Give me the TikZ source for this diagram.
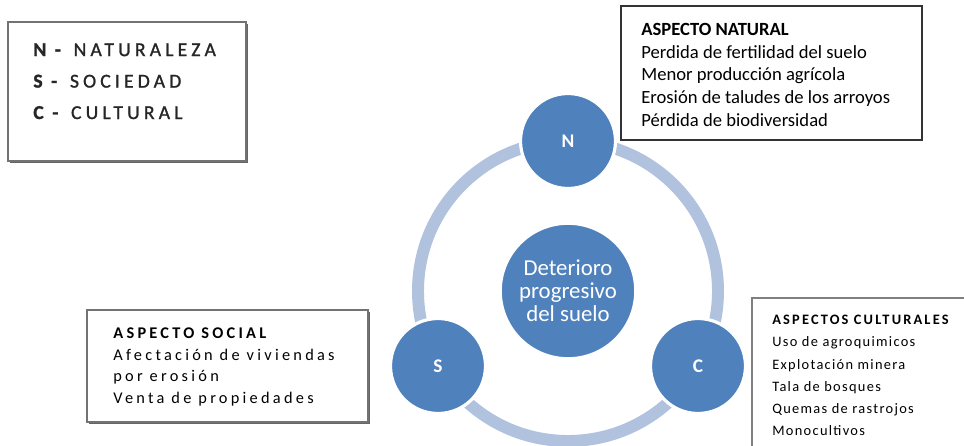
\documentclass[tikz,border=0pt]{standalone}
\usepackage{fontspec}
\setmainfont{Carlito}
\newfontfamily\legendfont[LetterSpace=21, FakeBold=1.2]{Carlito}
\newfontfamily\socialfont[LetterSpace=20]{Carlito}
\newfontfamily\culturefont[LetterSpace=9]{Carlito}
\newfontfamily\cultureheadfont[LetterSpace=15]{Carlito}
\usetikzlibrary{shadows}

\definecolor{circblue}{RGB}{79,129,189}
\definecolor{ringblue}{RGB}{176,194,222}

\tikzset{
  ring/.style={draw=ringblue, line width=6.8pt},
  hubcirc/.style={circle, fill=circblue, draw=white, line width=1.5pt, minimum size=2.7cm,
    inner sep=0pt, text=white, align=center, font=\fontsize{13}{13.2}\selectfont},
  aspcirc/.style={circle, fill=circblue, draw=white, line width=1.8pt, minimum size=1.9cm,
    inner sep=0pt, text=white, font=\fontsize{11}{13}\selectfont\bfseries},
  framebox/.style={draw=black!80, line width=0.8pt, fill=white},
  shadebox/.style={draw=black!55, line width=1.1pt, fill=white,
    drop shadow={shadow xshift=1.2pt, shadow yshift=-1.2pt, fill=black!60, opacity=1}},
  boxtext/.style={anchor=north west, inner sep=0pt, align=left},
}

\begin{document}
\begin{tikzpicture}[x=0.02cm, y=-0.02cm]
  \clip (0,0) rectangle (964,446);
  \fill[white] (0,0) rectangle (964,446);

  % legend
  \draw[shadebox] (8,22) rectangle (246,161);
  \node[boxtext, font=\legendfont\fontsize{11.2}{17.9}\selectfont, text=black!85] (legend) at (33,43)
    {\textbf{N -} NATURALEZA\\\textbf{S -} SOCIEDAD\\\textbf{C -} CULTURAL};

  % cycle
  \coordinate (hub) at (568,291);
  \draw[ring] (hub) circle [radius=150];
  \node[hubcirc] (deterioro) at (hub) {Deterioro\\progresivo\\del suelo};
  \node[aspcirc] (N) at (568,141) {N};
  \node[aspcirc] (S) at (438,366) {S};
  \node[aspcirc] (C) at (698,366) {C};

  % aspects
  \draw[framebox] (621,6) rectangle (922,140);
  \node[boxtext, font=\fontsize{10.6}{12.9}\selectfont] (natural) at (641,23)
    {\textbf{ASPECTO NATURAL}\\Perdida de fertilidad del suelo\\Menor producción agrícola\\
     Erosión de taludes de los arroyos\\Pérdida de biodiversidad};

  \draw[shadebox] (87,310) rectangle (368,422);
  \node[boxtext, font=\socialfont\fontsize{9.3}{12.5}\selectfont] (social) at (113,327)
    {\textbf{ASPECTO SOCIAL}\\Afectación de viviendas\\por erosión\\Venta de propiedades};

  \draw[draw=black!50, line width=0.8pt, fill=white] (752,298) rectangle (970,452);
  \node[boxtext, font=\culturefont\fontsize{8.2}{12.6}\selectfont] (cultural) at (772,315)
    {{\cultureheadfont\bfseries ASPECTOS CULTURALES}\\Uso de agroquimicos\\Explotación minera\\
     Tala de bosques\\Quemas de rastrojos\\Monocultivos};
\end{tikzpicture}
\end{document}
